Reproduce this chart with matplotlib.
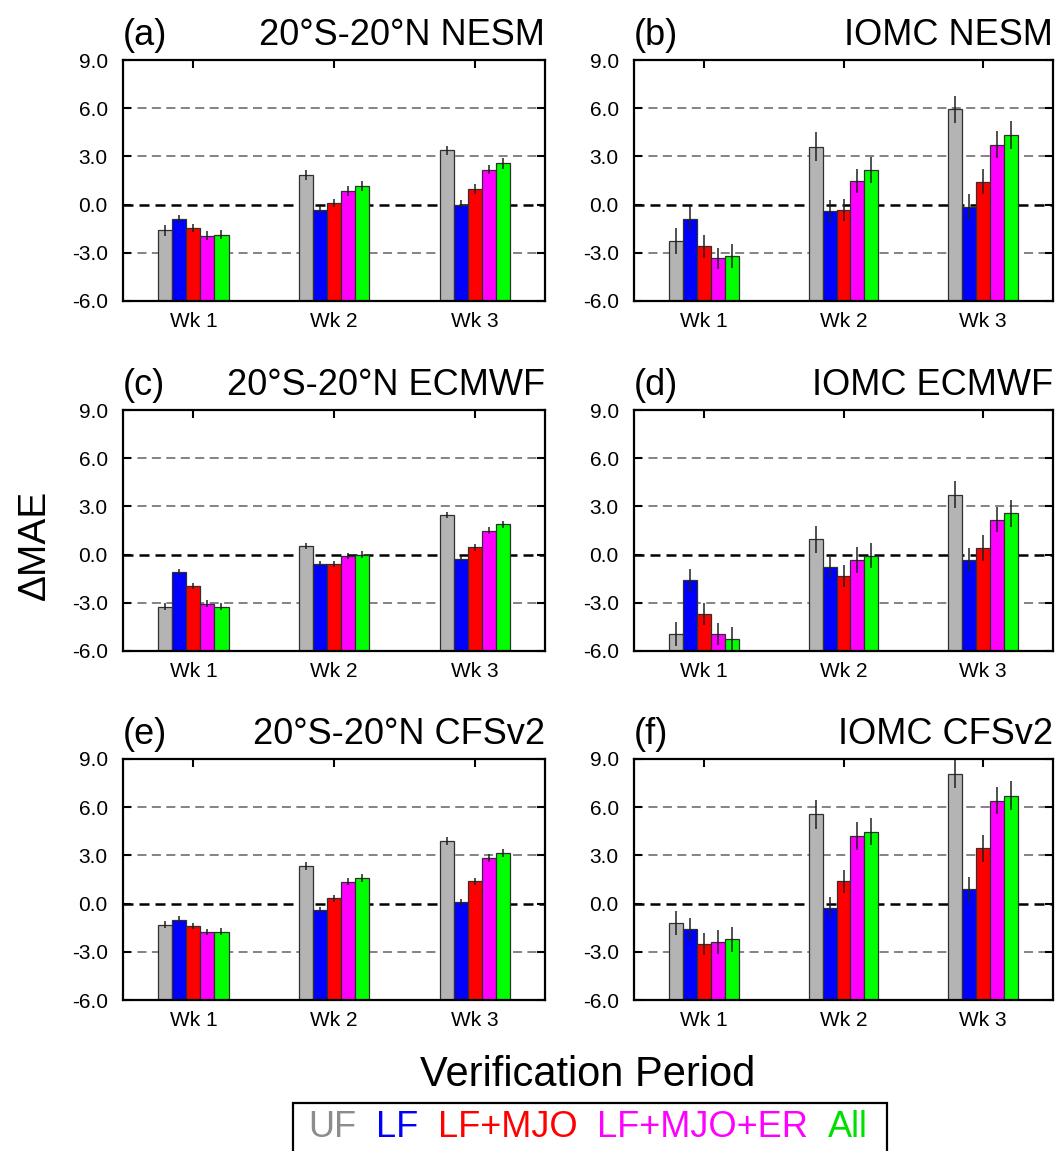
import matplotlib
matplotlib.use('Agg')
import matplotlib.pyplot as plt
from matplotlib.patches import Rectangle
import numpy as np

plt.rcParams['font.family'] = ['Liberation Sans', 'DejaVu Sans']

weeks = ['Wk 1', 'Wk 2', 'Wk 3']
experiments = ['UF', 'LF', 'LF+MJO', 'LF+MJO+ER', 'All']
bar_colors = ['#b4b4b4', '#0000ff', '#ff0000', '#ff00ff', '#00ff00']
text_colors = ['#8c8c8c', '#0000ff', '#ff0000', '#ff00ff', '#00e000']
yticks = [-6, -3, 0, 3, 6, 9]
ytick_labels = ['-6.0', '-3.0', '0.0', '3.0', '6.0', '9.0']
y_base = -6  # bars rise from the bottom of the axis

panel_labels = ['(a)', '(b)', '(c)', '(d)', '(e)', '(f)']
panel_titles = ['20°S-20°N NESM', 'IOMC NESM',
                '20°S-20°N ECMWF', 'IOMC ECMWF',
                '20°S-20°N CFSv2', 'IOMC CFSv2']

# rows: UF, LF, LF+MJO, LF+MJO+ER, All ; columns: Wk 1, Wk 2, Wk 3
vals_a = [[-1.60, 1.85, 3.37],
          [-0.87, -0.31, 0.00],
          [-1.45, 0.10, 0.98],
          [-1.93, 0.83, 2.18],
          [-1.87, 1.14, 2.56]]
errs_a = [[0.35, 0.30, 0.30],
          [0.25, 0.25, 0.30],
          [0.25, 0.25, 0.30],
          [0.30, 0.30, 0.30],
          [0.30, 0.30, 0.35]]

vals_b = [[-2.25, 3.60, 5.92],
          [-0.87, -0.42, -0.15],
          [-2.60, -0.35, 1.41],
          [-3.33, 1.46, 3.74],
          [-3.22, 2.14, 4.32]]
errs_b = [[0.80, 0.90, 0.87],
          [0.80, 0.70, 0.80],
          [0.70, 0.70, 0.78],
          [0.65, 0.75, 0.83],
          [0.75, 0.80, 0.88]]

vals_c = [[-3.24, 0.52, 2.47],
          [-1.09, -0.58, -0.25],
          [-1.96, -0.58, 0.45],
          [-3.05, -0.10, 1.50],
          [-3.24, 0.00, 1.90]]
errs_c = [[0.20, 0.20, 0.20],
          [0.20, 0.18, 0.18],
          [0.18, 0.18, 0.20],
          [0.20, 0.18, 0.20],
          [0.22, 0.20, 0.22]]

vals_d = [[-4.95, 0.94, 3.74],
          [-1.60, -0.79, -0.31],
          [-3.70, -1.35, 0.42],
          [-4.95, -0.35, 2.18],
          [-5.24, -0.06, 2.56]]
errs_d = [[0.75, 0.85, 0.85],
          [0.70, 0.65, 0.70],
          [0.68, 0.68, 0.80],
          [0.70, 0.80, 0.80],
          [0.72, 0.77, 0.83]]

vals_e = [[-1.31, 2.33, 3.89],
          [-1.00, -0.42, 0.08],
          [-1.41, 0.33, 1.39],
          [-1.77, 1.35, 2.81],
          [-1.75, 1.60, 3.12]]
errs_e = [[0.22, 0.25, 0.25],
          [0.20, 0.20, 0.20],
          [0.20, 0.22, 0.22],
          [0.20, 0.22, 0.25],
          [0.22, 0.25, 0.25]]

vals_f = [[-1.19, 5.55, 8.07],
          [-1.60, -0.25, 0.89],
          [-2.54, 1.39, 3.43],
          [-2.39, 4.22, 6.40],
          [-2.22, 4.47, 6.72]]
errs_f = [[0.75, 0.90, 0.90],
          [0.70, 0.68, 0.78],
          [0.68, 0.73, 0.83],
          [0.73, 0.86, 0.85],
          [0.77, 0.83, 0.91]]

all_vals = [vals_a, vals_b, vals_c, vals_d, vals_e, vals_f]
all_errs = [errs_a, errs_b, errs_c, errs_d, errs_e, errs_f]

W, H = 1062, 1151
fig = plt.figure(figsize=(W / 100, H / 100), dpi=100)

lefts = [123 / W, 634 / W]
widths = [422 / W, 419 / W]
bottoms = [1 - 301 / H, 1 - 651 / H, 1 - 1000 / H]
height = 241 / H

x = np.arange(1, len(weeks) + 1)
bw = 0.1
offsets = (np.arange(len(experiments)) - 2) * bw

for k in range(6):
    row, col = k // 2, k % 2
    ax = fig.add_axes([lefts[col], bottoms[row], widths[col], height])

    # reference lines
    for yv in [-3, 3, 6]:
        ax.axhline(yv, color='#7a7a7a', ls=(0, (5, 3)), lw=1.3, zorder=1)
    ax.axhline(0, color='black', ls=(0, (4, 2.4)), lw=1.8, zorder=1)

    vals = np.array(all_vals[k])
    errs = np.array(all_errs[k])
    for i in range(len(experiments)):
        ax.bar(x + offsets[i], vals[i] - y_base, bottom=y_base, width=bw,
               color=bar_colors[i], edgecolor='#303030', linewidth=0.9,
               zorder=2)
        ax.errorbar(x + offsets[i], vals[i], yerr=errs[i], fmt='none',
                    ecolor='#202020', elinewidth=1.1, capsize=0, zorder=3)

    ax.set_xlim(0.5, 3.5)
    ax.set_ylim(-6, 9)
    ax.set_xticks(x)
    ax.set_xticklabels(weeks)
    ax.set_yticks(yticks)
    ax.set_yticklabels(ytick_labels)
    ax.tick_params(axis='both', direction='in', length=6, width=1.5,
                   top=True, right=True, labelsize=15)
    ax.tick_params(axis='x', pad=8)
    ax.tick_params(axis='y', pad=11)
    for s in ax.spines.values():
        s.set_linewidth(1.6)
        s.set_zorder(4)

    ax.set_title(panel_labels[k], loc='left', fontsize=26, pad=11)
    ax.set_title(panel_titles[k], loc='right', fontsize=26, pad=11)

fig.text(0.033, 1 - 545 / H, 'ΔMAE', rotation=90, fontsize=28,
         ha='center', va='center')
fig.text(588 / W, 1 - 1086 / H, 'Verification Period', fontsize=30,
         ha='center', va='baseline')

handles = [Rectangle((0, 0), 1, 1, visible=False) for _ in experiments]
fig.legend(handles, experiments, loc='upper center',
           bbox_to_anchor=(588 / W, 1 - 1110 / H), ncol=5,
           handlelength=0, handletextpad=0, columnspacing=0.55,
           fontsize=26, frameon=False, borderpad=0, borderaxespad=0,
           labelcolor=text_colors)
fig.patches.append(Rectangle((293 / W, -0.05), (887 - 293) / W,
                             0.05 + 1 - 1103 / H, transform=fig.transFigure,
                             fill=False, lw=1.6, edgecolor='black'))

fig.savefig('out.png', dpi=100)
